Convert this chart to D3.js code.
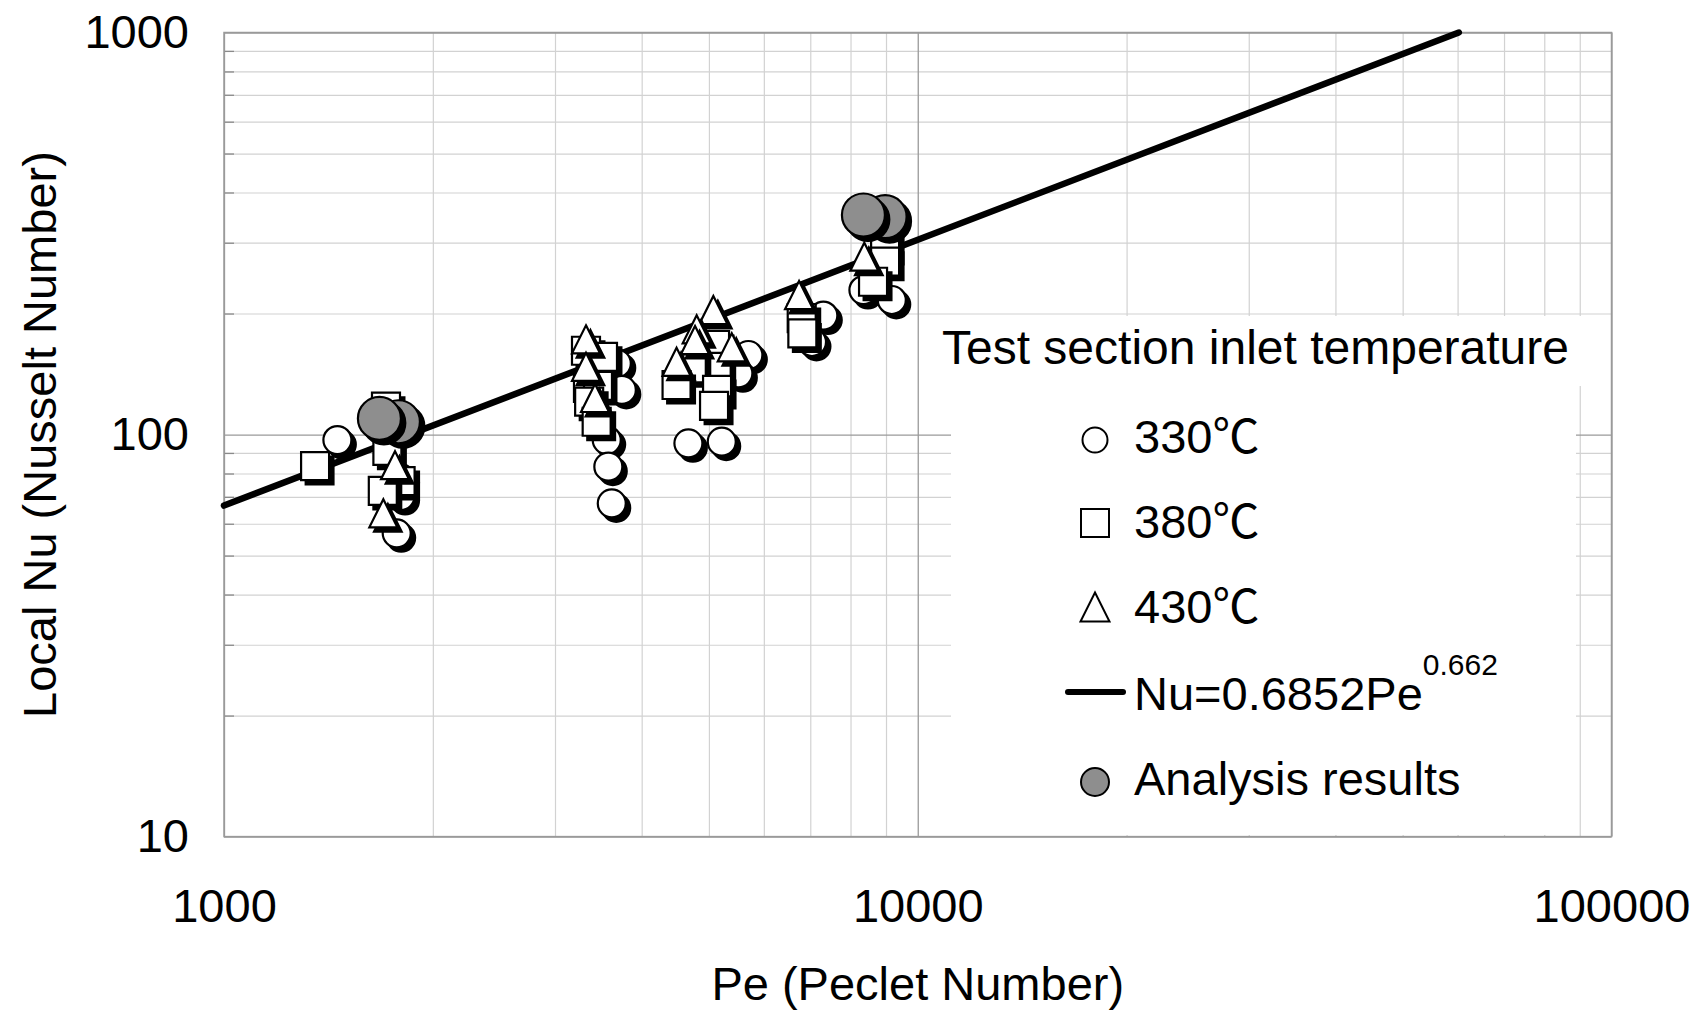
<!DOCTYPE html>
<html lang="en">
<head>
  <meta charset="UTF-8" />
  <title>Local Nu vs Pe</title>
  <script src="https://cdn.jsdelivr.net/npm/d3@7"></script>
  <style>
    body { margin: 0; background: #fff; }
    svg text { font-family: "Liberation Sans", Arial, "Noto Sans CJK JP", sans-serif; fill: #000; }
    .grid-minor line { stroke: #d2d2d2; stroke-width: 1.2px; }
    .grid-major line { stroke: #9a9a9a; stroke-width: 1.3px; }
    .inner-tick line { stroke: #8a8a8a; stroke-width: 1.3px; }
    .domain { display: none; }
    .fit-line { fill: none; stroke: #000; stroke-width: 6.5px; stroke-linecap: round; }
  </style>
</head>
<body>
<script>
  // tick labels
  var peTicks = [1000, 10000, 100000];
  var nuTicks = [10, 100, 1000];

  // [Pe, Nu]
  var temp330 = [[1457, 96.9], [1797, 77.9], [1797, 70.3], [1774, 56.8],
    [3683, 150.3], [3745, 129.1], [3562, 96.9], [3581, 83.2], [3622, 67.4],
    [5700, 157.7], [5514, 142.0], [4671, 95.1], [5218, 96.0],
    [7310, 197.7], [7040, 169.9], [8350, 228.8], [9175, 216.1]];

  var temp380 = [[1353, 83.5], [1712, 117.3], [1720, 91.1], [1797, 76.6], [1694, 72.4],
    [3325, 161.6], [3518, 156.1], [3347, 130.6], [3460, 132.1], [3360, 120.7], [3445, 107.6],
    [5103, 167.0], [5131, 147.4], [4724, 146.1], [4491, 132.8], [5137, 129.1], [5086, 117.9],
    [6804, 194.9], [6818, 178.5], [8973, 294.6], [8973, 269.1], [8621, 239.9]];

  var temp430 = [[1764, 83.9], [1697, 63.7],
    [3325, 172.5], [3325, 147.4], [3426, 123.3],
    [5074, 204.1], [4801, 182.7], [4775, 171.8], [5394, 164.8], [4491, 151.7],
    [6744, 222.3], [8375, 276.9]];

  var analysis = [[1784, 107.6], [1675, 109.7], [8973, 348.2], [8350, 351.6]];

  // Nu=0.6852Pe^0.662, end points as drawn
  var fitLine = [[1000, 66.6], [60250, 1000]];

  var w = 1697;
  var h = 1011;
  var margin = { top: 32.5, right: 85.5, bottom: 174.4, left: 224 };
  var plotW = w - margin.left - margin.right;
  var plotH = h - margin.top - margin.bottom;

  var svg = d3.select("body").append("svg")
    .attr("width", w)
    .attr("height", h);

  var xScale = d3.scaleLog().domain([1000, 100000]).range([margin.left, margin.left + plotW]);
  var yScale = d3.scaleLog().domain([10, 1000]).range([margin.top + plotH, margin.top]);

  var minorX = xScale.ticks().filter(function(d) { return peTicks.indexOf(d) < 0; });
  var minorY = yScale.ticks().filter(function(d) { return nuTicks.indexOf(d) < 0; });

  // gridlines
  svg.append("g")
    .attr("class", "grid-minor")
    .attr("transform", "translate(0," + (margin.top + plotH) + ")")
    .call(d3.axisBottom(xScale).tickValues(minorX).tickSize(-plotH).tickFormat(""));
  svg.append("g")
    .attr("class", "grid-minor")
    .attr("transform", "translate(" + margin.left + ",0)")
    .call(d3.axisLeft(yScale).tickValues(minorY).tickSize(-plotW).tickFormat(""));
  svg.append("g")
    .attr("class", "grid-major")
    .attr("transform", "translate(0," + (margin.top + plotH) + ")")
    .call(d3.axisBottom(xScale).tickValues(peTicks).tickSize(-plotH).tickFormat(""));
  svg.append("g")
    .attr("class", "grid-major")
    .attr("transform", "translate(" + margin.left + ",0)")
    .call(d3.axisLeft(yScale).tickValues(nuTicks).tickSize(-plotW).tickFormat(""));
  svg.append("g")
    .attr("class", "inner-tick")
    .attr("transform", "translate(" + margin.left + ",0)")
    .call(d3.axisLeft(yScale).tickValues(minorY).tickSize(-10).tickFormat(""));

  // legend backgrounds hide the grid
  svg.append("rect").attr("x", 935).attr("y", 316).attr("width", 674).attr("height", 70).attr("fill", "#fff");
  svg.append("rect").attr("x", 951).attr("y", 385).attr("width", 625).attr("height", 450).attr("fill", "#fff");

  // frame
  svg.append("rect")
    .attr("x", margin.left).attr("y", margin.top)
    .attr("width", plotW).attr("height", plotH)
    .attr("fill", "none").attr("stroke", "#9a9a9a").attr("stroke-width", 1.5);

  // tick labels
  svg.append("g")
    .attr("transform", "translate(" + margin.left + ",0)")
    .call(d3.axisLeft(yScale).tickValues(nuTicks).tickSize(0).tickPadding(35).tickFormat(d3.format("d")));
  svg.append("g")
    .attr("transform", "translate(0," + (margin.top + plotH) + ")")
    .call(d3.axisBottom(xScale).tickValues(peTicks).tickSize(0).tickPadding(52).tickFormat(d3.format("d")));
  svg.selectAll(".tick text")
    .attr("fill", "#000")
    .style("font-size", "47px")
    .style("font-family", "'Liberation Sans', Arial, sans-serif");

  // axis titles
  svg.append("text")
    .attr("x", margin.left + plotW / 2)
    .attr("y", 1000)
    .attr("text-anchor", "middle")
    .style("font-size", "47px")
    .text("Pe (Peclet Number)");
  svg.append("text")
    .attr("transform", "translate(56," + (margin.top + plotH / 2) + ") rotate(-90)")
    .attr("text-anchor", "middle")
    .style("font-size", "47px")
    .text("Local Nu (Nusselt Number)");

  // fit line
  var line = d3.line()
    .x(function(d) { return xScale(d[0]); })
    .y(function(d) { return yScale(d[1]); });
  svg.append("path")
    .datum(fitLine)
    .attr("class", "fit-line")
    .attr("d", line);

  // isosceles triangle, size = side
  var triType = {
    draw: function(context, size) {
      var s = size / 2;
      context.moveTo(0, -s);
      context.lineTo(s, s);
      context.lineTo(-s, s);
      context.closePath();
    }
  };

  var series = [
    { data: temp330, type: d3.symbolCircle, size: Math.PI * 14 * 14, fill: "#fff" },
    { data: temp380, type: d3.symbolSquare, size: 28 * 28, fill: "#fff" },
    { data: temp430, type: triType, size: 28, fill: "#fff" },
    { data: analysis, type: d3.symbolCircle, size: Math.PI * 21.5 * 21.5, fill: "#8e8e8e" }
  ];

  series.forEach(function(s) {
    var sym = d3.symbol().type(s.type).size(s.size);
    var pts = svg.append("g").selectAll("g")
      .data(s.data)
      .enter()
      .append("g")
      .attr("transform", function(d) {
        return "translate(" + xScale(d[0]) + "," + yScale(d[1]) + ")";
      });
    pts.append("path")
      .attr("d", sym)
      .attr("transform", "translate(4.5,4.5)")
      .attr("fill", "#000")
      .attr("stroke", "#000")
      .attr("stroke-width", 2);
    pts.append("path")
      .attr("d", sym)
      .attr("fill", s.fill)
      .attr("stroke", "#000")
      .attr("stroke-width", 2.2);
  });

  // legend
  var lg = svg.append("g");
  lg.append("text").attr("x", 942).attr("y", 364).style("font-size", "48px")
    .text("Test section inlet temperature");

  var legendItems = [
    { label: "330℃", type: d3.symbolCircle, size: Math.PI * 12.5 * 12.5, fill: "#fff", y: 440, base: 453 },
    { label: "380℃", type: d3.symbolSquare, size: 28 * 28, fill: "#fff", y: 523, base: 538 },
    { label: "430℃", type: triType, size: 29, fill: "#fff", y: 607, base: 623 }
  ];
  legendItems.forEach(function(it) {
    lg.append("path")
      .attr("transform", "translate(1095," + it.y + ")")
      .attr("d", d3.symbol().type(it.type).size(it.size))
      .attr("fill", it.fill).attr("stroke", "#000").attr("stroke-width", 2);
    lg.append("text").attr("x", 1134).attr("y", it.base).style("font-size", "47px").text(it.label);
  });

  lg.append("line").attr("x1", 1068).attr("x2", 1123).attr("y1", 692).attr("y2", 692)
    .attr("stroke", "#000").attr("stroke-width", 6).attr("stroke-linecap", "round");
  var eq = lg.append("text").attr("x", 1134).attr("y", 710).style("font-size", "47px");
  eq.append("tspan").text("Nu=0.6852Pe");
  eq.append("tspan").attr("dy", -35).style("font-size", "30px").text("0.662");

  lg.append("path")
    .attr("transform", "translate(1095,782)")
    .attr("d", d3.symbol().type(d3.symbolCircle).size(Math.PI * 14 * 14))
    .attr("fill", "#8e8e8e").attr("stroke", "#000").attr("stroke-width", 2);
  lg.append("text").attr("x", 1134).attr("y", 795).style("font-size", "47px").text("Analysis results");
</script>
</body>
</html>
